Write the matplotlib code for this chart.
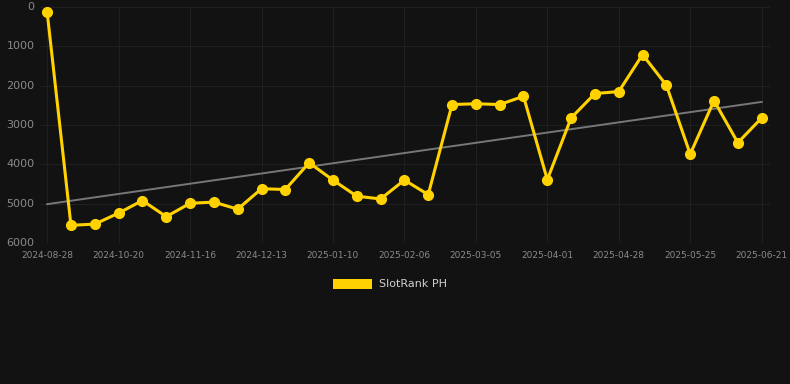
import numpy as np
import matplotlib
matplotlib.use("Agg")
from matplotlib import pyplot as plt
from matplotlib.patches import Patch

# rank per data point (lower is better, axis is inverted)
ranks = [130, 5550, 5520, 5240, 4920, 5330, 4990, 4960, 5140, 4620,
         4640, 3960, 4400, 4810, 4880, 4400, 4770, 2480, 2460, 2480,
         2270, 4390, 2820, 2200, 2150, 1210, 1990, 3740, 2380, 3450, 2820]
tick_idx = [0, 3, 6, 9, 12, 15, 18, 21, 24, 27, 30]
tick_labels = ["2024-08-28", "2024-10-20", "2024-11-16", "2024-12-13", "2025-01-10",
               "2025-02-06", "2025-03-05", "2025-04-01", "2025-04-28", "2025-05-25",
               "2025-06-21"]
series_name = "SlotRank PH"

bg = "#121212"
gold = "#FFD200"

fig = plt.figure(figsize=(7.9, 3.84), dpi=100, facecolor=bg)
ax = fig.add_axes([40 / 790, 141 / 384, 730 / 790, 236 / 384], facecolor=bg)

x = np.arange(len(ranks))
# linear trend through the series
k, b = np.polyfit(x, ranks, 1)
ax.plot(x, k * x + b, color="#777777", lw=1.4, zorder=2)
ax.plot(x, ranks, color=gold, lw=2.2, marker="o", ms=7, zorder=3)

ax.set_ylim(6000, 0)
ax.set_yticks([0, 1000, 2000, 3000, 4000, 5000, 6000])
ax.set_xlim(-0.3, 30.35)
ax.set_xticks(tick_idx)
ax.set_xticklabels(tick_labels)

ax.grid(True, color="#1f1f1f", lw=0.8)
ax.set_axisbelow(True)
for s in ax.spines.values():
    s.set_visible(False)
ax.tick_params(axis="y", length=0, colors="#8a8a8a", labelsize=8, pad=4)
ax.tick_params(axis="x", length=0, colors="#8a8a8a", labelsize=6.5, pad=6)
for lbl in ax.get_yticklabels():
    lbl.set_verticalalignment("center")

fig.legend(handles=[Patch(facecolor=gold, label=series_name)],
           loc="center", bbox_to_anchor=(390 / 790, 1 - 284 / 384),
           frameon=False, handlelength=3.5, handleheight=1.0,
           fontsize=8, labelcolor="#d0d0d0", handletextpad=0.6)

fig.savefig("out.png", dpi=100, facecolor=bg)
